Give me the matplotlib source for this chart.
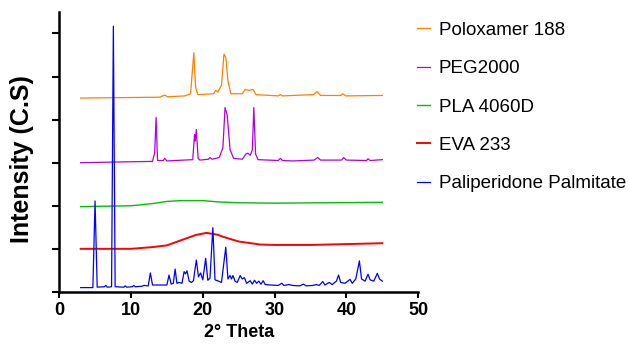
import matplotlib
matplotlib.use('Agg')
import matplotlib.pyplot as plt

plt.rcParams['font.family'] = ['Liberation Sans', 'DejaVu Sans']

# traced vertices of each XRD pattern (2theta, stacked intensity)
pp_x = [3.0, 4.7, 5.0, 5.3, 6.3, 6.5, 6.7, 7.3, 7.55, 7.8, 9.0, 9.2, 9.4, 10.2, 10.4, 10.6,
        11.5, 11.8, 12.4, 12.7, 13.0, 15.0, 15.3, 15.6, 15.9, 16.15, 16.4, 16.7, 17.1, 17.4,
        17.6, 17.8, 18.1, 18.4, 18.7, 19.1, 19.4, 19.7, 20.0, 20.4, 20.7, 21.0, 21.4, 21.7,
        22.2, 22.6, 23.2, 23.5, 23.8, 24.0, 24.2, 24.5, 24.8, 25.2, 25.5, 25.8, 26.1, 26.6,
        26.9, 27.2, 27.5, 27.8, 28.1, 28.4, 28.7, 29.5, 30.5, 31.0, 31.3, 32.0, 32.5, 33.5,
        34.0, 34.4, 35.3, 35.8, 36.2, 36.7, 37.0, 37.6, 38.0, 38.6, 38.9, 39.2, 39.8, 40.5,
        40.8, 41.3, 41.8, 42.1, 42.6, 43.0, 43.3, 43.8, 44.3, 44.6, 45.0]
pp_y = [0.10, 0.10, 2.11, 0.11, 0.12, 0.15, 0.11, 0.12, 6.17, 0.12, 0.11, 0.14, 0.11, 0.12, 0.15, 0.12,
        0.13, 0.15, 0.14, 0.44, 0.16, 0.16, 0.39, 0.18, 0.20, 0.53, 0.20, 0.22, 0.20, 0.47,
        0.42, 0.49, 0.25, 0.22, 0.26, 0.74, 0.35, 0.44, 0.28, 0.78, 0.27, 0.32, 1.49, 0.28,
        0.25, 0.22, 1.04, 0.30, 0.38, 0.30, 0.38, 0.25, 0.22, 0.38, 0.30, 0.33, 0.20, 0.26,
        0.18, 0.27, 0.20, 0.25, 0.18, 0.26, 0.17, 0.16, 0.15, 0.20, 0.15, 0.17, 0.15, 0.14,
        0.18, 0.14, 0.15, 0.17, 0.15, 0.24, 0.16, 0.22, 0.17, 0.25, 0.39, 0.22, 0.20, 0.29,
        0.20, 0.30, 0.72, 0.30, 0.25, 0.41, 0.28, 0.25, 0.43, 0.30, 0.25]

eva_x = [3.0, 10.0, 13.0, 15.0, 17.5, 19.0, 20.5, 22.0, 23.0, 25.0, 28.0, 30.0, 35.0, 40.0, 45.0]
eva_y = [1.00, 1.00, 1.04, 1.08, 1.23, 1.32, 1.37, 1.33, 1.27, 1.17, 1.10, 1.09, 1.09, 1.11, 1.13]

pla_x = [3.0, 10.0, 13.0, 15.0, 17.0, 20.0, 22.0, 25.0, 30.0, 45.0]
pla_y = [1.98, 2.00, 2.05, 2.10, 2.12, 2.12, 2.09, 2.07, 2.06, 2.08]

peg_x = [3.0, 13.0, 13.3, 13.5, 13.7, 14.5, 14.7, 15.0, 18.6, 18.85, 18.95, 19.1, 19.35, 19.6,
         20.8, 21.0, 21.3, 22.3, 22.8, 23.1, 23.4, 23.8, 24.3, 25.5, 26.0, 26.3, 26.6, 26.9,
         27.1, 27.35, 27.7, 30.5, 30.8, 31.1, 32.5, 35.5, 36.0, 36.4, 39.3, 39.6, 40.0,
         42.8, 43.0, 43.3, 45.0]
peg_y = [3.00, 3.03, 3.23, 4.05, 3.05, 3.05, 3.10, 3.04, 3.07, 3.65, 3.50, 3.77, 3.10, 3.06,
         3.08, 3.12, 3.08, 3.12, 3.35, 4.28, 4.10, 3.30, 3.10, 3.08, 3.20, 3.22, 3.17, 3.30,
         4.28, 3.20, 3.07, 3.05, 3.10, 3.05, 3.04, 3.06, 3.12, 3.06, 3.06, 3.12, 3.06,
         3.05, 3.09, 3.05, 3.07]

polox_x = [3.0, 14.0, 14.7, 15.1, 17.5, 18.3, 18.75, 19.0, 19.3, 21.5, 21.8, 22.1, 22.6, 22.95,
           23.2, 23.5, 23.9, 25.5, 25.9, 26.5, 27.0, 27.4, 30.5, 30.8, 31.1, 35.4, 35.9, 36.4,
           39.2, 39.5, 39.9, 45.0]
polox_y = [4.50, 4.52, 4.57, 4.53, 4.55, 4.60, 5.55, 4.75, 4.58, 4.60, 4.68, 4.64, 4.80, 5.52,
           5.45, 4.90, 4.60, 4.60, 4.70, 4.68, 4.70, 4.58, 4.55, 4.58, 4.55, 4.58, 4.65, 4.56,
           4.56, 4.60, 4.55, 4.56]

fig = plt.figure(figsize=(6.29, 3.5), dpi=100)
ax = fig.add_axes([0.094, 0.166, 0.571, 0.80])

ax.plot(polox_x, polox_y, color='#FF8000', lw=0.9, label='Poloxamer 188')
ax.plot(peg_x, peg_y, color='#B000E6', lw=0.9, label='PEG2000')
ax.plot(pla_x, pla_y, color='#00C000', lw=1.0, label='PLA 4060D')
ax.plot(eva_x, eva_y, color='#FF0000', lw=1.4, label='EVA 233')
ax.plot(pp_x, pp_y, color='#0000FF', lw=0.9, label='Paliperidone Palmitate')

ax.set_xlim(0, 50)
ax.set_ylim(0, 6.5)
ax.set_xticks([0, 10, 20, 30, 40, 50])
ax.set_yticks([0, 1, 2, 3, 4, 5, 6])
ax.set_yticklabels([])
for lab in ax.get_xticklabels():
    lab.set_fontweight('bold')
ax.tick_params(axis='x', labelsize=13, width=1.5, length=4, pad=3)
ax.tick_params(axis='y', width=1.5, length=5)
ax.spines['top'].set_visible(False)
ax.spines['right'].set_visible(False)
ax.spines['left'].set_linewidth(1.8)
ax.spines['bottom'].set_linewidth(1.8)

ax.set_xlabel('2° Theta', fontsize=13, fontweight='bold', labelpad=4)
ax.set_ylabel('Intensity (C.S)', fontsize=18, fontweight='bold')
ax.yaxis.set_label_coords(-0.07, 0.475)

fig.legend(loc='upper left', bbox_to_anchor=(0.6355, 0.986), frameon=False,
           fontsize=13.5, handlelength=0.7, handletextpad=0.48, labelspacing=1.13)

fig.savefig('out.png', dpi=100)
